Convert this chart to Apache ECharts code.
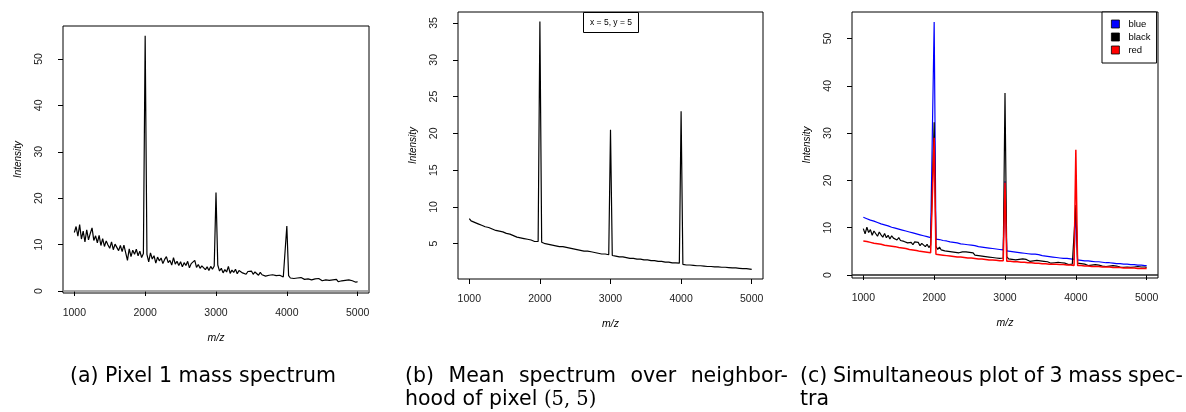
<!DOCTYPE html>
<html>
<head>
<meta charset="utf-8">
<title>Mass spectra</title>
<script src="https://cdn.jsdelivr.net/npm/echarts@6/dist/echarts.min.js"></script>
<style>
  html, body { margin: 0; padding: 0; background: #fff; }
  #main { width: 1186px; height: 412px; }
</style>
</head>
<body>
<div id="main"></div>
<script type="text/javascript">
// sampling grid of the spectra: 1000 .. 5000, step 25
var mzStart = 1000, mzEnd = 5000, mzStep = 25;
var mz = [];
for (var m = mzStart; m <= mzEnd; m += mzStep) mz.push(m);

var xTicks = [1000, 2000, 3000, 4000, 5000];
var yTicksA = [0, 10, 20, 30, 40, 50];
var yTicksB = [5, 10, 15, 20, 25, 30, 35];
var yTicksC = [0, 10, 20, 30, 40, 50];

// (a) pixel 1 spectrum
var pixel1 = [
  12.6, 13.9, 11.8, 14.3, 11.2, 12.9, 10.6, 13.2, 11.0, 12.4, 13.6, 10.9, 11.9, 10.4, 12.0, 9.8, 11.3, 9.6, 10.8, 9.9,
  9.2, 10.6, 8.9, 10.1, 9.4, 8.7, 9.8, 8.5, 9.9, 10.2, 6.6, 9.1, 7.4, 8.8, 7.9, 9.0, 7.6, 8.6, 7.2, 8.1,
  55.0, 7.9, 6.3, 8.2, 6.9, 7.6, 6.0, 7.3, 6.5, 7.1, 5.9, 6.8, 7.4, 6.1, 6.6, 5.6, 7.2, 5.8, 6.4, 5.5,
  6.3, 5.2, 6.1, 5.5, 6.4, 5.0, 5.9, 5.6, 6.6, 5.1, 5.7, 4.9, 5.4, 5.8, 4.6, 5.2, 4.4, 5.3, 4.7, 5.4,
  21.2, 5.6, 4.3, 4.9, 3.9, 4.6, 4.1, 5.3, 3.8, 4.5, 4.0, 4.7, 3.7, 4.4, 4.8, 3.9, 4.3, 3.6, 4.2, 4.0,
  4.3, 3.6, 4.1, 3.8, 3.4, 4.0, 3.5, 3.7, 3.2, 3.6, 3.4, 3.0, 3.5, 3.2, 3.3, 2.9, 3.4, 3.1, 3.0, 3.3,
  14.0, 3.3, 2.8, 3.1, 2.7, 3.0, 2.8, 2.6, 2.9, 2.7, 2.5, 2.9, 2.6, 2.8, 2.4, 2.7, 2.6, 2.3, 2.7, 2.5,
  2.2, 2.6, 2.4, 2.5, 2.3, 2.1, 2.4, 2.2, 2.5, 2.0, 2.3, 2.2, 1.9, 2.3, 2.1, 2.4, 2.0, 2.2, 2.1, 1.9,
  2.0
];

// (b) mean spectrum around pixel (5,5)
var meanSpec = [
  8.4, 8.1, 8.3, 7.9, 8.0, 7.7, 7.9, 7.5, 7.6, 7.3, 7.4, 7.2, 7.3, 7.0, 7.1, 6.8, 6.9, 6.7, 6.8, 6.6,
  6.7, 6.4, 6.5, 6.3, 6.3, 6.1, 6.2, 5.9, 6.0, 5.8, 5.9, 5.7, 5.8, 5.6, 5.7, 5.5, 5.5, 5.3, 5.4, 5.3,
  35.2, 5.2, 5.0, 5.0, 4.9, 4.9, 4.8, 4.8, 4.8, 4.7, 4.7, 4.6, 4.6, 4.6, 4.5, 4.5, 4.4, 4.4, 4.4, 4.3,
  4.3, 4.2, 4.2, 4.1, 4.1, 4.0, 4.0, 4.0, 3.9, 3.9, 3.8, 3.8, 3.8, 3.7, 3.7, 3.6, 3.6, 3.6, 3.5, 3.5,
  20.5, 3.4, 3.3, 3.3, 3.3, 3.2, 3.2, 3.2, 3.1, 3.1, 3.1, 3.0, 3.0, 3.0, 3.0, 2.9, 2.9, 2.9, 2.9, 2.8,
  2.8, 2.8, 2.8, 2.7, 2.7, 2.7, 2.7, 2.6, 2.6, 2.6, 2.6, 2.5, 2.5, 2.5, 2.5, 2.4, 2.4, 2.4, 2.4, 2.35,
  23.0, 2.2, 2.15, 2.1, 2.1, 2.1, 2.05, 2.05, 2.0, 2.0, 2.0, 2.0, 1.95, 1.95, 1.95, 1.9, 1.9, 1.9, 1.9, 1.85,
  1.85, 1.85, 1.8, 1.8, 1.8, 1.8, 1.75, 1.75, 1.75, 1.7, 1.7, 1.7, 1.65, 1.65, 1.65, 1.6, 1.6, 1.6, 1.55, 1.55,
  1.5
];

// (c) three spectra
var specBlue = [
  12.2, 12.1, 11.9, 11.8, 11.6, 11.5, 11.4, 11.2, 11.1, 11.0, 10.8, 10.7, 10.6, 10.5, 10.4, 10.2, 10.1, 10.0, 9.9, 9.8,
  9.7, 9.6, 9.5, 9.4, 9.3, 9.2, 9.1, 9.0, 8.9, 8.8, 8.7, 8.6, 8.5, 8.4, 8.3, 8.2, 8.1, 8.0, 7.9, 7.8,
  53.5, 7.6, 7.5, 7.5, 7.4, 7.3, 7.2, 7.2, 7.1, 7.0, 7.0, 6.9, 6.8, 6.8, 6.7, 6.6, 6.6, 6.5, 6.5, 6.4,
  6.3, 6.3, 6.2, 6.2, 6.1, 6.0, 6.0, 5.9, 5.9, 5.8, 5.8, 5.7, 5.7, 5.6, 5.5, 5.5, 5.4, 5.4, 5.3, 5.3,
  19.8, 5.1, 5.1, 5.0, 5.0, 4.9, 4.9, 4.8, 4.8, 4.7, 4.7, 4.6, 4.6, 4.5, 4.5, 4.4, 4.4, 4.4, 4.3, 4.3,
  4.2, 4.1, 4.1, 4.0, 4.0, 3.9, 3.9, 3.8, 3.8, 3.7, 3.7, 3.6, 3.6, 3.5, 3.5, 3.5, 3.4, 3.4, 3.3, 3.3,
  14.0, 3.2, 3.2, 3.1, 3.1, 3.0, 3.0, 3.0, 2.9, 2.9, 2.9, 2.8, 2.8, 2.8, 2.7, 2.7, 2.7, 2.6, 2.6, 2.6,
  2.5, 2.5, 2.5, 2.4, 2.4, 2.4, 2.3, 2.3, 2.3, 2.3, 2.2, 2.2, 2.2, 2.2, 2.1, 2.1, 2.1, 2.1, 2.0, 2.0,
  2.0
];
var specBlack = [
  9.8, 8.7, 10.1, 9.0, 9.6, 8.4, 9.3, 8.9, 8.2, 9.1, 8.5, 8.0, 8.8, 7.9, 8.4, 7.6, 8.3, 7.8, 8.1, 7.4,
  7.9, 7.3, 7.7, 7.1, 7.5, 6.8, 7.2, 6.9, 6.4, 7.0, 6.6, 6.9, 6.2, 6.7, 6.3, 6.0, 6.5, 5.8, 6.3, 5.9,
  32.3, 6.1, 5.4, 5.9, 5.3, 5.7, 5.1, 5.5, 5.0, 5.4, 4.9, 5.3, 4.8, 5.1, 4.7, 5.0, 4.9, 4.5, 4.9, 4.6,
  4.8, 4.4, 4.7, 4.2, 4.5, 4.1, 4.4, 4.0, 4.3, 3.9, 4.2, 3.8, 4.1, 3.7, 4.0, 3.6, 3.9, 3.5, 3.8, 3.6,
  38.5, 3.9, 3.4, 3.7, 3.3, 3.6, 3.2, 3.5, 3.3, 3.1, 3.4, 3.0, 3.3, 3.1, 2.9, 3.2, 3.0, 2.8, 3.1, 2.9,
  3.0, 2.7, 2.9, 2.6, 2.8, 2.7, 2.5, 2.8, 2.6, 2.4, 2.7, 2.5, 2.6, 2.3, 2.5, 2.4, 2.2, 2.5, 2.3, 2.4,
  14.8, 2.5, 2.2, 2.4, 2.1, 2.3, 2.2, 2.0, 2.3, 2.1, 2.0, 2.2, 1.9, 2.1, 2.0, 1.9, 2.1, 1.8, 2.0, 1.9,
  1.8, 2.0, 1.7, 1.9, 1.8, 1.7, 1.9, 1.6, 1.8, 1.7, 1.9, 1.6, 1.8, 1.7, 1.6, 1.8, 1.6, 1.7, 1.5, 1.7,
  1.6
];
var specRed = [
  7.2, 7.0, 7.1, 6.9, 6.9, 6.8, 6.7, 6.7, 6.6, 6.5, 6.5, 6.4, 6.3, 6.3, 6.2, 6.1, 6.1, 6.0, 6.0, 5.9,
  5.8, 5.8, 5.7, 5.6, 5.6, 5.5, 5.4, 5.4, 5.3, 5.2, 5.2, 5.1, 5.0, 5.0, 4.9, 4.9, 4.8, 4.7, 4.7, 4.6,
  29.0, 4.4, 4.3, 4.3, 4.2, 4.2, 4.1, 4.1, 4.0, 4.0, 4.0, 3.9, 3.9, 3.8, 3.8, 3.8, 3.7, 3.7, 3.7, 3.6,
  3.6, 3.6, 3.5, 3.5, 3.5, 3.4, 3.4, 3.4, 3.3, 3.3, 3.3, 3.2, 3.2, 3.2, 3.1, 3.1, 3.1, 3.0, 3.0, 3.0,
  19.5, 2.9, 2.9, 2.9, 2.8, 2.8, 2.8, 2.8, 2.7, 2.7, 2.7, 2.7, 2.6, 2.6, 2.6, 2.6, 2.5, 2.5, 2.5, 2.5,
  2.5, 2.4, 2.4, 2.4, 2.4, 2.3, 2.3, 2.3, 2.3, 2.3, 2.2, 2.2, 2.2, 2.2, 2.2, 2.1, 2.1, 2.1, 2.1, 2.0,
  26.5, 2.0, 2.0, 2.0, 1.9, 1.9, 1.9, 1.9, 1.9, 1.8, 1.8, 1.8, 1.8, 1.8, 1.8, 1.7, 1.7, 1.7, 1.7, 1.7,
  1.7, 1.6, 1.6, 1.6, 1.6, 1.6, 1.6, 1.5, 1.5, 1.5, 1.5, 1.5, 1.5, 1.5, 1.5, 1.4, 1.4, 1.4, 1.4, 1.4,
  1.4
];

var legendNames = ['blue', 'black', 'red'];
var legendColors = ['#0000ff', '#000000', '#ff0000'];

var capFontFamily = '"DejaVu Sans", sans-serif';
var capFontSize = 20.5;

var myChart = echarts.init(document.getElementById('main'));

function pairs(xs, ys) {
  var res = [];
  for (var i = 0; i < ys.length; i++) res.push([xs[i], ys[i]]);
  return res;
}

var tickFont = { fontFamily: '"Liberation Sans", Arial, sans-serif', fontSize: 10.5, color: '#222' };
function plainNum(v) { return String(v); }

function makeX(idx) {
  return {
    type: 'value', gridIndex: idx, min: 840, max: 5160,
    axisLine: { show: false },
    axisTick: { show: true, length: 5, customValues: xTicks, lineStyle: { color: '#000', width: 1 } },
    axisLabel: Object.assign({ customValues: xTicks, margin: 15, formatter: plainNum }, tickFont),
    splitLine: { show: false },
    name: 'm/z', nameLocation: 'middle', nameGap: 40,
    nameTextStyle: Object.assign({}, tickFont, { fontStyle: 'italic', color: '#000' })
  };
}

function makeY(idx, min, max, ticks) {
  return {
    type: 'value', gridIndex: idx, min: min, max: max,
    axisLine: { show: false },
    axisTick: { show: true, length: 5, customValues: ticks, lineStyle: { color: '#000', width: 1 } },
    axisLabel: Object.assign({ customValues: ticks, rotate: 90, margin: 18, formatter: plainNum }, tickFont),
    splitLine: { show: false },
    name: 'Intensity', nameLocation: 'middle', nameGap: 40, nameRotate: 90,
    nameTextStyle: Object.assign({}, tickFont, { fontStyle: 'italic', fontSize: 10, color: '#000' })
  };
}

function spectrum(name, ys, axis, color, width, zeroColor) {
  var s = {
    name: name, type: 'line', xAxisIndex: axis, yAxisIndex: axis,
    data: pairs(mz, ys), symbol: 'none', showSymbol: false, clip: true,
    color: color,
    lineStyle: { color: color, width: width },
    emphasis: { disabled: true }
  };
  if (zeroColor) {
    s.markLine = {
      silent: true, symbol: 'none', label: { show: false },
      lineStyle: { color: zeroColor, width: 1.6, type: 'solid' },
      data: [{ yAxis: 0 }]
    };
  }
  return s;
}

// captions -----------------------------------------------------------
var measureCtx = document.createElement('canvas').getContext('2d');
function textWidth(s) {
  measureCtx.font = capFontSize + 'px ' + capFontFamily;
  return measureCtx.measureText(s).width;
}
function capText(x, y, text, align) {
  return {
    type: 'text', x: x, y: y, silent: true,
    style: { text: text, fontFamily: capFontFamily, fontSize: capFontSize, fill: '#000', align: align || 'left', verticalAlign: 'middle' }
  };
}
function justified(words, x0, x1, y) {
  var total = 0;
  words.forEach(function (w) { total += textWidth(w); });
  var gap = (x1 - x0 - total) / (words.length - 1);
  var x = x0, out = [];
  words.forEach(function (w) {
    out.push(capText(x, y, w));
    x += textWidth(w) + gap;
  });
  return out;
}

var line1Y = 377, line2Y = 400;
var graphics = [];
graphics.push(capText(203, line1Y, '(a) Pixel 1 mass spectrum', 'center'));
graphics = graphics.concat(justified(['(b)', 'Mean', 'spectrum', 'over', 'neighbor-'], 405, 788, line1Y));
graphics.push({
  type: 'text', x: 405, y: line2Y, silent: true,
  style: {
    text: '{s|hood of pixel }{m|(5, 5)}', verticalAlign: 'middle',
    rich: {
      s: { fontFamily: capFontFamily, fontSize: capFontSize, fill: '#000' },
      m: { fontFamily: '"DejaVu Serif", serif', fontSize: capFontSize - 1, fill: '#000' }
    }
  }
});
graphics = graphics.concat(justified(['(c)', 'Simultaneous', 'plot', 'of', '3', 'mass', 'spec-'], 800, 1183, line1Y));
graphics.push(capText(800, line2Y, 'tra'));

// "x = 5, y = 5" box of panel (b)
graphics.push({
  type: 'rect', silent: true, shape: { x: 583.5, y: 12.5, width: 55, height: 20 },
  style: { fill: '#fff', stroke: '#000', lineWidth: 1 }, z: 100
});
graphics.push({
  type: 'text', silent: true, x: 611, y: 22.5, z: 101,
  style: { text: 'x = 5, y = 5', fontFamily: '"Liberation Sans", Arial, sans-serif', fontSize: 8.5, fill: '#000', align: 'center', verticalAlign: 'middle' }
});

var option = {
  backgroundColor: '#ffffff',
  animation: false,
  grid: [
    { left: 63, top: 26, width: 306, height: 267, show: true, borderColor: '#000', borderWidth: 1, backgroundColor: 'transparent' },
    { left: 458, top: 12, width: 305, height: 267, show: true, borderColor: '#000', borderWidth: 1, backgroundColor: 'transparent' },
    { left: 852, top: 12, width: 306, height: 266, show: true, borderColor: '#000', borderWidth: 1, backgroundColor: 'transparent' }
  ],
  xAxis: [makeX(0), makeX(1), makeX(2)],
  yAxis: [
    makeY(0, -0.43, 57.1, yTicksA),
    makeY(1, 0.2, 36.5, yTicksB),
    makeY(2, -0.63, 55.6, yTicksC)
  ],
  legend: {
    left: 1102, top: 12, orient: 'vertical', icon: 'rect',
    itemWidth: 8, itemHeight: 8, itemGap: 3, padding: [7, 6, 8, 9],
    borderColor: '#000', borderWidth: 1, borderRadius: 0, backgroundColor: '#fff',
    selectedMode: false,
    itemStyle: { borderColor: '#000', borderWidth: 0.8 },
    textStyle: { fontFamily: '"Liberation Sans", Arial, sans-serif', fontSize: 9.5, lineHeight: 10, color: '#000', padding: [0, 0, 0, 4] },
    data: legendNames
  },
  series: [
    spectrum('pixel 1', pixel1, 0, '#000', 1.2, '#8a8a8a'),
    spectrum('mean', meanSpec, 1, '#000', 1.2, null),
    spectrum(legendNames[0], specBlue, 2, legendColors[0], 1.2, '#222'),
    spectrum(legendNames[1], specBlack, 2, legendColors[1], 1.2, null),
    spectrum(legendNames[2], specRed, 2, legendColors[2], 1.5, null)
  ],
  graphic: graphics
};

myChart.setOption(option);
</script>
</body>
</html>
